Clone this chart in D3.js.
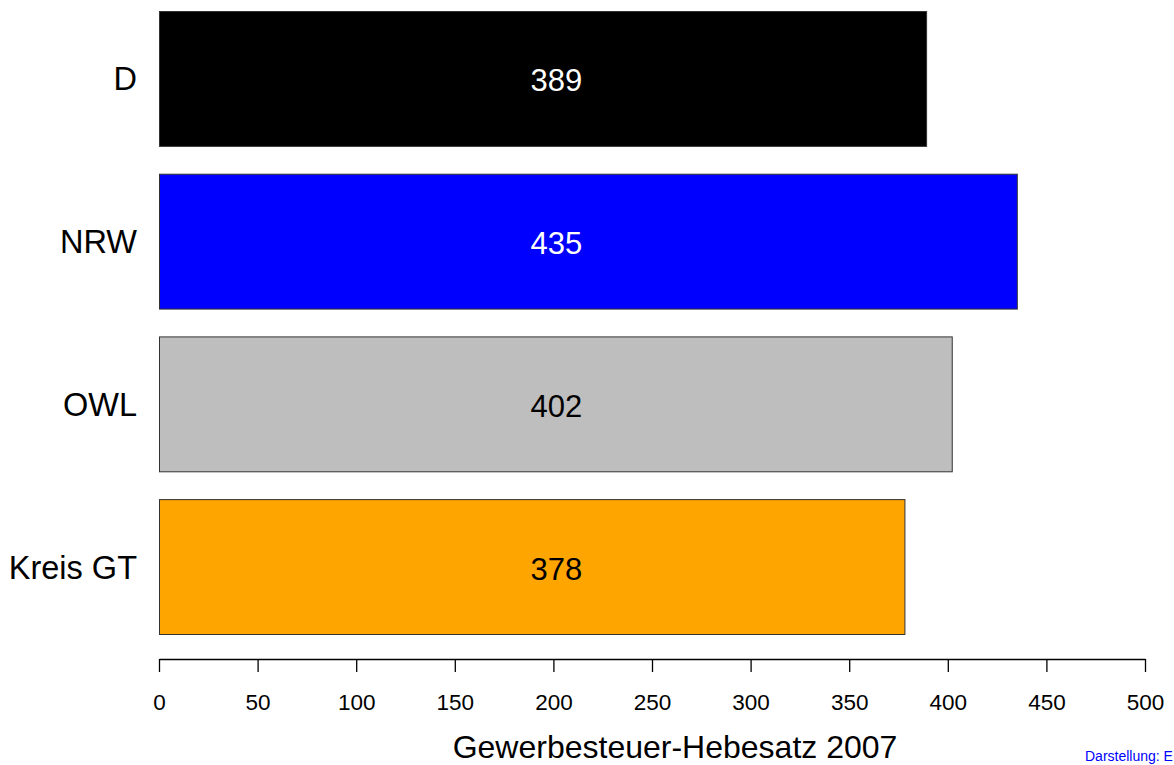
<!DOCTYPE html>
<html><head><meta charset="utf-8">
<script src="https://cdn.jsdelivr.net/npm/d3@7"></script>
<style>body{margin:0;background:#fff}svg{display:block}text{font-family:"Liberation Sans",Arial,sans-serif}</style>
</head><body><svg id="c" width="1174" height="765"></svg>
<script>
const categories = ["D", "NRW", "OWL", "Kreis GT"];
const values = [389, 435, 402, 378];
const colors = ["#000000", "#0000FF", "#BEBEBE", "#FFA500"];
const labelColors = ["#FFFFFF", "#FFFFFF", "#000000", "#000000"];
const ticks = [0, 50, 100, 150, 200, 250, 300, 350, 400, 450, 500];
const xTitle = "Gewerbesteuer-Hebesatz 2007";
const source = "Darstellung: E";

const svg = d3.select("#c");
const x = d3.scaleLinear().domain([0, 500]).range([159, 1145]);
const y = d3.scaleBand().domain(categories).range([11, 634]).paddingInner(0.171).paddingOuter(0);

const data = categories.map((c, i) => ({c, v: values[i], fill: colors[i], lc: labelColors[i]}));

svg.selectAll("rect.bar").data(data).join("rect")
  .attr("class", "bar")
  .attr("x", x(0) + 0.5).attr("y", d => y(d.c) + 0.5)
  .attr("width", d => x(d.v) - x(0)).attr("height", y.bandwidth())
  .attr("fill", d => d.fill).attr("stroke", "#333").attr("stroke-width", 1);

const labelX = x(d3.mean(values) / 2) + 2;
svg.selectAll("text.val").data(data).join("text")
  .attr("class", "val")
  .attr("x", labelX).attr("y", d => y(d.c) + y.bandwidth() / 2 + 13)
  .attr("text-anchor", "middle").attr("font-size", 31)
  .attr("fill", d => d.lc).text(d => d.v);

svg.selectAll("text.cat").data(data).join("text")
  .attr("class", "cat")
  .attr("x", 137).attr("y", d => y(d.c) + y.bandwidth() / 2 + 12)
  .attr("text-anchor", "end").attr("font-size", 32.5)
  .attr("fill", "#000").text(d => d.c);

const axis = d3.axisBottom(x).tickValues(ticks).tickSize(13).tickPadding(22).tickSizeOuter(0);
const g = svg.append("g").attr("transform", "translate(0,659)").call(axis);
g.select(".domain").attr("stroke", "#000").attr("stroke-width", 1.3);
g.selectAll(".tick line").attr("stroke", "#000").attr("stroke-width", 1.3);
g.selectAll(".tick text").attr("font-size", 22.5)
  .attr("font-family", '"Liberation Sans",Arial,sans-serif').attr("fill", "#000");

svg.append("text").attr("x", 675).attr("y", 758).attr("text-anchor", "middle")
  .attr("font-size", 32).attr("fill", "#000").text(xTitle);

svg.append("text").attr("x", 1085).attr("y", 761).attr("font-size", 14)
  .attr("fill", "#0000FF").text(source);
</script></body></html>
